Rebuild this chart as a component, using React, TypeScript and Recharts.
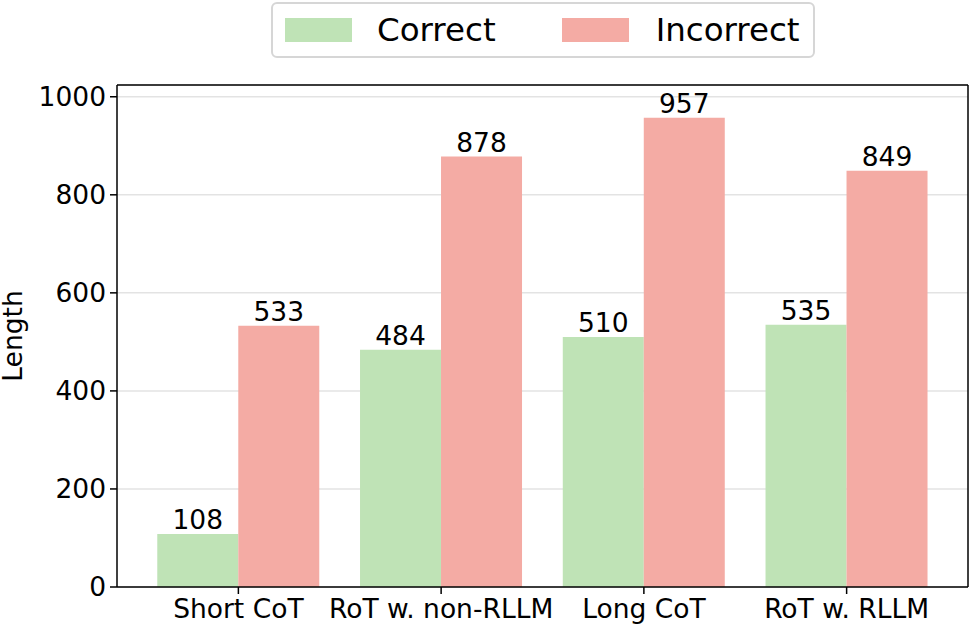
import React from "react";
import {
  BarChart,
  Bar,
  XAxis,
  YAxis,
  CartesianGrid,
  LabelList,
  ReferenceLine,
} from "recharts";

const categories = ["Short CoT", "RoT w. non-RLLM", "Long CoT", "RoT w. RLLM"];
const correct = [108, 484, 510, 535];
const incorrect = [533, 878, 957, 849];
const yTicks = [0, 200, 400, 600, 800, 1000];
const seriesNames = ["Correct", "Incorrect"];

const data = categories.map((c, i) => ({
  name: c,
  Correct: correct[i],
  Incorrect: incorrect[i],
}));

const GREEN = "#bfe3b6";
const RED = "#f4aba4";
const FONT = "'DejaVu Sans', sans-serif";
const FS = 26.5;

const LegendBox = () => (
  <div
    style={{
      position: "absolute",
      left: 271,
      top: 2,
      display: "flex",
      alignItems: "center",
      border: "2px solid #d6d6d6",
      borderRadius: 6,
      width: 544,
      height: 56,
      boxSizing: "border-box",
      background: "#fff",
      fontFamily: FONT,
      fontSize: 32.5,
      color: "#000",
    }}
  >
    <div style={{ width: 67, height: 24, background: GREEN, marginLeft: 12 }} />
    <span style={{ marginLeft: 25 }}>{seriesNames[0]}</span>
    <div style={{ width: 67, height: 24, background: RED, marginLeft: 66 }} />
    <span style={{ marginLeft: 27 }}>{seriesNames[1]}</span>
  </div>
);

export default function App() {
  return (
    <div style={{ position: "absolute", left: 0, top: 0, width: 972, height: 629, background: "#fff" }}>
      <BarChart
        width={972}
        height={629}
        data={data}
        margin={{ top: 85, right: 3, bottom: 0, left: 0 }}
        barCategoryGap="10%"
        barGap={0}
      >
        <CartesianGrid horizontal={true} vertical={false} stroke="#e3e3e3" strokeWidth={1.5} />
        <XAxis
          dataKey="name"
          padding={{ left: 20, right: 20 }}
          height={42}
          tickSize={7}
          axisLine={{ stroke: "#000", strokeWidth: 1.5 }}
          tickLine={{ stroke: "#000", strokeWidth: 1.5 }}
          tick={{ fill: "#000", fontSize: FS, fontFamily: FONT, dy: 3 }}
          interval={0}
        />
        <YAxis
          domain={[0, 1024]}
          ticks={yTicks}
          width={117}
          tickSize={7}
          axisLine={{ stroke: "#000", strokeWidth: 1.5 }}
          tickLine={{ stroke: "#000", strokeWidth: 1.5 }}
          tick={{ fill: "#000", fontSize: FS, fontFamily: FONT, dx: -2 }}
          label={{
            value: "Length",
            angle: -90,
            position: "insideLeft",
            offset: 0,
            dx: 13,
            style: { fill: "#000", fontSize: FS, fontFamily: FONT, textAnchor: "middle" },
          }}
        />
        <YAxis
          yAxisId="right"
          orientation="right"
          domain={[0, 1024]}
          width={1}
          tick={false}
          tickLine={false}
          axisLine={{ stroke: "#000", strokeWidth: 1.5 }}
        />
        <ReferenceLine y={1024} stroke="#000" strokeWidth={1.5} />
        <Bar dataKey="Correct" fill={GREEN} isAnimationActive={false}>
          <LabelList
            dataKey="Correct"
            position="top"
            offset={5}
            style={{ fill: "#000", fontSize: FS, fontFamily: FONT }}
          />
        </Bar>
        <Bar dataKey="Incorrect" fill={RED} isAnimationActive={false}>
          <LabelList
            dataKey="Incorrect"
            position="top"
            offset={5}
            style={{ fill: "#000", fontSize: FS, fontFamily: FONT }}
          />
        </Bar>
      </BarChart>
      <LegendBox />
    </div>
  );
}
